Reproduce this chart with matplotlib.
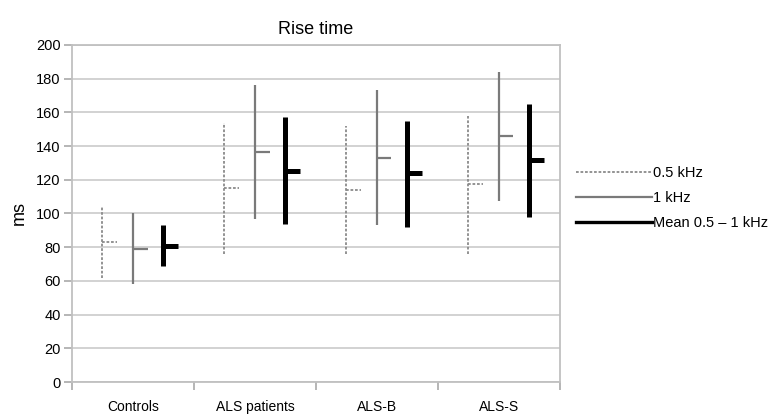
import numpy as np
import matplotlib.pyplot as plt
from matplotlib.lines import Line2D

plt.rcParams['font.family'] = ['Liberation Sans', 'DejaVu Sans']

# Werte
categories = ['Controls', 'ALS patients', 'ALS-B', 'ALS-S']
series = ['0.5 kHz', '1 kHz', 'Mean 0.5 – 1 kHz']

low_05 = [61.5, 76, 76, 76]
high_05 = [104, 154, 152, 158]
mean_05 = [83, 115, 114, 117.5]

low_1 = [58, 97, 93, 107.5]
high_1 = [100, 176, 173, 184]
mean_1 = [79, 136.5, 133, 146]

low_m = [69, 94, 92, 98]
high_m = [93, 157, 155, 165]
mean_m = [81, 125.5, 124, 132]

fig = plt.figure(figsize=(7.84, 4.15), dpi=100)
ax = fig.add_axes([0.0918, 0.0795, 0.6222, 0.8121])

x = np.arange(len(categories))
offsets = [-0.25, 0.0, 0.25]
styles = [
    dict(color='#8a8a8a', lw=1.3, ls=(0, (1.5, 1))),
    dict(color='#7a7a7a', lw=1.6, ls='-'),
    dict(color='#000000', lw=3.6, ls='-'),
]
data = [(low_05, high_05, mean_05), (low_1, high_1, mean_1), (low_m, high_m, mean_m)]
tick_len = 0.12

for (lo, hi, mu), off, st in zip(data, offsets, styles):
    xs = x + off
    ax.vlines(xs, lo, hi, colors=st['color'], linewidth=st['lw'], linestyles=st['ls'], zorder=3)
    ax.hlines(mu, xs, xs + tick_len, colors=st['color'], linewidth=st['lw'], linestyles=st['ls'], zorder=3)

ax.set_xlim(-0.5, len(categories) - 0.5)
ax.set_ylim(0, 200)
ax.set_yticks(np.arange(0, 201, 20))
ax.yaxis.grid(True, color='#cfcfcf', lw=1.3)
ax.set_axisbelow(True)

ax.set_xticks(x)
ax.set_xticklabels(categories, fontsize=10)
ax.set_xticks(np.arange(-0.5, len(categories)), minor=True)
ax.tick_params(axis='x', which='major', length=0, pad=13)
ax.tick_params(axis='x', which='minor', length=6, color='#b0b0b0', width=1.3)
ax.tick_params(axis='y', length=6, color='#b0b0b0', width=1.3, labelsize=10.5, pad=2)

for s in ax.spines.values():
    s.set_color('#c0c0c0')
    s.set_linewidth(1.3)

ax.set_ylabel('ms', fontsize=13, labelpad=6)
ax.set_title('Rise time', fontsize=13, pad=8)

handles = [Line2D([], [], color=st['color'], lw=min(st['lw'], 2.4), ls=st['ls']) for st in styles]
fig.legend(handles, series, loc='center left', bbox_to_anchor=(0.718, 0.523),
           frameon=False, fontsize=10.5, handlelength=5.2, handletextpad=0.1,
           labelspacing=0.75)

fig.savefig('out.png', dpi=100)
